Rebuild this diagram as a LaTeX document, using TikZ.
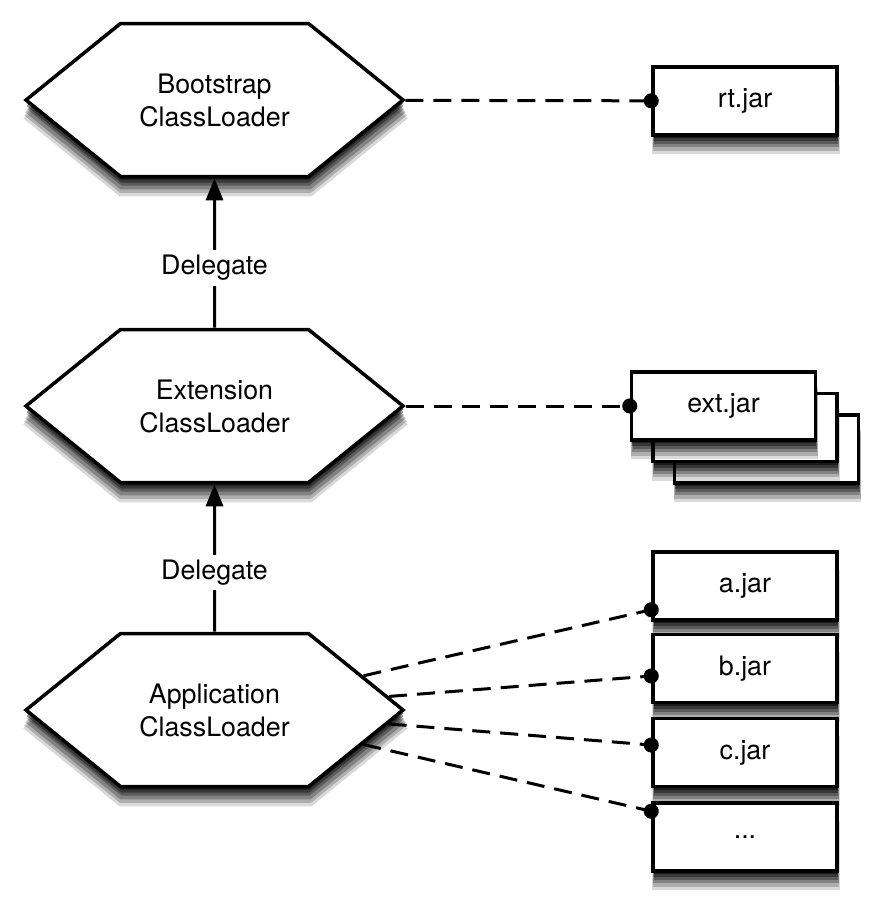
\documentclass[tikz,border=0pt]{standalone}
\usepackage{fontspec}
\setmainfont{TeX Gyre Heros}
\usetikzlibrary{shapes.symbols,arrows.meta,shadows}

\begin{document}
\begin{tikzpicture}[x=1pt,y=-1pt,
    font=\fontsize{26.8}{33}\selectfont,
    softshadow/.style={
        general shadow={shadow xshift=1pt,shadow yshift=-18pt,shadow scale=1.02,fill=black,opacity=0.15},
        general shadow={shadow xshift=1pt,shadow yshift=-15pt,shadow scale=1.015,fill=black,opacity=0.2},
        general shadow={shadow xshift=1pt,shadow yshift=-12pt,shadow scale=1.01,fill=black,opacity=0.25},
        general shadow={shadow xshift=1pt,shadow yshift=-9pt,fill=black,opacity=0.3},
        general shadow={shadow xshift=0.5pt,shadow yshift=-6pt,fill=black,opacity=0.4},
        general shadow={shadow xshift=0.5pt,shadow yshift=-3pt,fill=black,opacity=0.5}},
    loader/.style={signal,signal to=east and west,signal pointer angle=78,
        draw,line width=3.5pt,fill=white,minimum width=377pt,minimum height=153pt,
        align=center,softshadow},
    jar/.style={rectangle,draw,line width=3.5pt,fill=white,
        minimum width=184pt,minimum height=68pt,softshadow},
    delegate/.style={-{Triangle[length=22pt,width=17pt]},line width=3pt},
    uses/.style={dash pattern=on 18pt off 10pt,line width=3pt,
        -{Circle[length=15pt]},shorten >=-7.5pt}]
    \useasboundingbox (0,0) rectangle (874,910);

    \node[loader] (bootcl) at (214.5,100) {Bootstrap\\ClassLoader};
    \node[loader] (extcl) at (214.5,406) {Extension\\ClassLoader};
    \node[loader] (appcl) at (214.5,710) {Application\\ClassLoader};

    \node[jar] (rtjar) at (745,101) {rt.jar};
    \node[jar] (extjarc) at (766.5,449) {};
    \node[jar] (extjarb) at (745,427.5) {};
    \node[jar] (extjar) at (723.5,406) {ext.jar};
    \node[jar] (ajar) at (745,586) {a.jar};
    \node[jar] (bjar) at (745,668.5) {b.jar};
    \node[jar] (cjar) at (745,752.5) {c.jar};
    \node[jar] (morejar) at (745,837) {...};

    \draw[delegate] (extcl) to node[fill=white,inner sep=5pt,pos=0.4] {Delegate} (bootcl);
    \draw[delegate] (appcl) to node[fill=white,inner sep=5pt,pos=0.4] {Delegate} (extcl);

    \draw[uses] (bootcl) -- (rtjar);
    \draw[uses] (extcl) -- (extjar);
    \draw[uses] (appcl) -- ([yshift=12pt]ajar.south west);
    \draw[uses] (appcl) -- ([yshift=-7.5pt]bjar.west);
    \draw[uses] (appcl) -- ([yshift=7.5pt]cjar.west);
    \draw[uses] (appcl) -- ([yshift=-10pt]morejar.north west);
\end{tikzpicture}
\end{document}
